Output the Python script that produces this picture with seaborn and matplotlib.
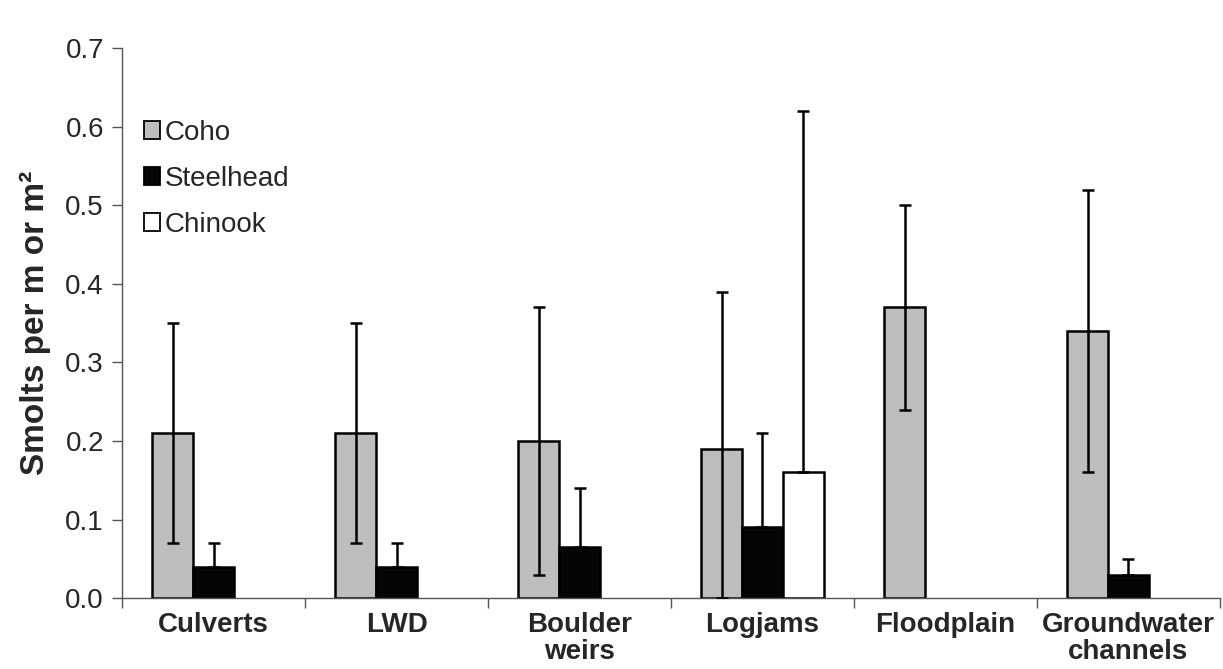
import numpy as np
import pandas as pd
import seaborn as sns
import matplotlib
matplotlib.use('Agg')
import matplotlib.pyplot as plt
from matplotlib.ticker import FixedLocator

habitats = ['Culverts', 'LWD', 'Boulder\nweirs', 'Logjams', 'Floodplain', 'Groundwater\nchannels']
species = ['Coho', 'Steelhead', 'Chinook']

coho = [0.21, 0.21, 0.20, 0.19, 0.37, 0.34]
coho_low = [0.07, 0.07, 0.03, 0.0, 0.24, 0.16]
coho_high = [0.35, 0.35, 0.37, 0.39, 0.50, 0.52]

steelhead = [0.04, 0.04, 0.065, 0.09, np.nan, 0.03]
steelhead_high = [0.07, 0.07, 0.14, 0.21, np.nan, 0.05]

chinook = [np.nan, np.nan, np.nan, 0.16, np.nan, np.nan]
chinook_high = [np.nan, np.nan, np.nan, 0.62, np.nan, np.nan]

colores = ['#bebebe', '#050505', '#ffffff']

rows = []
for i, h in enumerate(habitats):
    rows.append((h, 'Coho', coho[i], coho_low[i], coho_high[i]))
    rows.append((h, 'Steelhead', steelhead[i], steelhead[i], steelhead_high[i]))
    rows.append((h, 'Chinook', chinook[i], chinook[i], chinook_high[i]))
df = pd.DataFrame(rows, columns=['habitat', 'species', 'value', 'low', 'high'])

sns.set_style('white')
plt.rcParams['font.family'] = ['Liberation Sans', 'DejaVu Sans']

fig = plt.figure(figsize=(12.23, 6.69), dpi=100)
ax = fig.add_axes([0.0998, 0.106, 0.8977, 0.822])

larghezza = 0.67
sns.barplot(data=df.dropna(subset=['value']), x='habitat', y='value', hue='species',
            order=habitats, hue_order=species, palette=colores, width=larghezza,
            edgecolor='black', linewidth=1.8, errorbar=None, saturation=1, ax=ax)

# barre d'errore sopra le colonne
passo = larghezza / len(species)
for j, sp in enumerate(species):
    sub = df[df['species'] == sp].reset_index(drop=True)
    for i, r in sub.iterrows():
        if np.isnan(r['value']):
            continue
        x = i + (j - 1) * passo
        ax.errorbar(x, r['value'], yerr=[[r['value'] - r['low']], [r['high'] - r['value']]],
                    fmt='none', ecolor='black', elinewidth=1.8, capsize=4, capthick=1.8, zorder=5)

ax.set_xlim(-0.5, len(habitats) - 0.5)
ax.set_ylim(0, 0.7)
ax.set_yticks(np.arange(0, 0.71, 0.1))
ax.set_yticklabels([f'{v:.1f}' for v in np.arange(0, 0.71, 0.1)], fontsize=20)
ax.set_xticks(range(len(habitats)))
ax.set_xticklabels(habitats, fontsize=20, fontweight='bold', linespacing=1.05)
ax.xaxis.set_minor_locator(FixedLocator(np.arange(-0.5, len(habitats), 1.0)))
ax.tick_params(axis='x', which='major', length=0, pad=10)
ax.tick_params(axis='x', which='minor', length=7, width=1, color='#555555', direction='out', bottom=True)
ax.tick_params(axis='y', which='major', length=7, width=1, color='#555555', direction='out', left=True, pad=6)

for lato in ['top', 'right']:
    ax.spines[lato].set_visible(False)
for lato in ['left', 'bottom']:
    ax.spines[lato].set_color('#555555')
    ax.spines[lato].set_linewidth(1)

ax.set_xlabel('')
ax.set_ylabel('Smolts per m or m²', fontsize=24, fontweight='bold', labelpad=10)

leg = ax.legend(loc='upper left', bbox_to_anchor=(-0.003, 0.915), frameon=False, fontsize=20,
                handlelength=0.6, handleheight=0.6, handletextpad=0.15, labelspacing=0.72)
for p in leg.get_patches():
    p.set_edgecolor('black')
    p.set_linewidth(1.3)

plt.savefig('out.png', dpi=100)
